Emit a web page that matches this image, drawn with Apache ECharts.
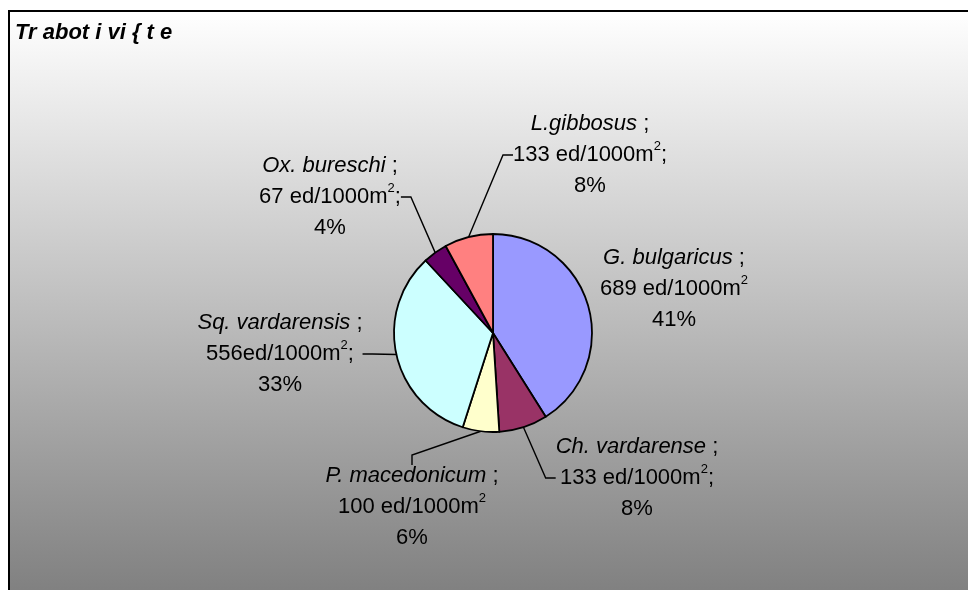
<!DOCTYPE html>
<html>
<head>
<meta charset="utf-8">
<script src="https://cdn.jsdelivr.net/npm/echarts@6/dist/echarts.min.js"></script>
<style>
  html, body { margin: 0; padding: 0; background: #fff; }
  #main { width: 968px; height: 590px; }
</style>
</head>
<body>
<div id="main"></div>
<script>
// data
var species = ['G. bulgaricus', 'Ch. vardarense', 'P. macedonicum', 'Sq. vardarensis', 'Ox. bureschi', 'L.gibbosus'];
var density = [689, 133, 100, 556, 67, 133];          // ed/1000m2
var gaps    = [' ', ' ', ' ', '', ' ', ' '];           // space between number and unit as printed
var tails   = ['', ';', '', ';', ';', ';'];            // trailing ';' as printed
var colors  = ['#9999FF', '#993366', '#FFFFCC', '#CCFFFF', '#660066', '#FF8080'];

// label centres (px)
var labelPos = [[674, 289], [637, 478], [412, 507], [280, 354], [330, 197], [590, 155]];

(function () {
    var myChart = echarts.init(document.getElementById('main'));

    var font = 'Arial, "Liberation Sans", sans-serif';
    var pieData = species.map(function (n, i) {
        var d = { name: n, value: density[i], itemStyle: { color: colors[i] } };
        if (i === 0) d.labelLine = { show: false };   // no leader line on the big slice
        return d;
    });

    var option = {
        backgroundColor: '#fff',
        animation: false,
        graphic: [{
            type: 'rect',
            shape: { x: 9, y: 11, width: 980, height: 600 },
            style: {
                fill: new echarts.graphic.LinearGradient(0, 0, 0, 1, [
                    { offset: 0, color: '#ffffff' },
                    { offset: 1, color: '#7c7c7c' }
                ]),
                stroke: '#000',
                lineWidth: 2
            },
            z: -10
        }],
        title: {
            text: 'Tr abot i vi { t e',
            left: 10,
            top: 17,
            textStyle: {
                fontFamily: font,
                fontSize: 22,
                fontWeight: 'bold',
                fontStyle: 'italic',
                color: '#000'
            }
        },
        series: [{
            type: 'pie',
            center: [493, 333],
            radius: 99,
            startAngle: 90,
            clockwise: true,
            data: pieData,
            itemStyle: { borderColor: '#000', borderWidth: 1.8 },
            label: {
                show: true,
                position: 'outside',
                color: '#000',
                formatter: function (p) {
                    var i = p.dataIndex;
                    return '{n|' + p.name + '}{t| ;}\n' +
                        '{t|' + p.value + gaps[i] + 'ed/1000m}{sup|2}{t|' + tails[i] + '}\n' +
                        '{t|' + Math.round(p.percent) + '%}';
                },
                rich: {
                    n: { fontFamily: font, fontSize: 22, fontStyle: 'italic', color: '#000', lineHeight: 31 },
                    t: { fontFamily: font, fontSize: 22, color: '#000', lineHeight: 31 },
                    sup: { fontFamily: font, fontSize: 13, color: '#000', lineHeight: 26, verticalAlign: 'top' }
                }
            },
            labelLine: {
                show: true,
                length: 10,
                length2: 10,
                lineStyle: { color: '#000', width: 1.4 }
            },
            labelLayout: function (params) {
                var pos = labelPos[params.dataIndex];
                return { x: pos[0], y: pos[1], align: 'center', verticalAlign: 'middle' };
            },
            emphasis: { disabled: true }
        }]
    };

    myChart.setOption(option);
    window.addEventListener('resize', function () {
        myChart.resize();
    });
})();
</script>
</body>
</html>
